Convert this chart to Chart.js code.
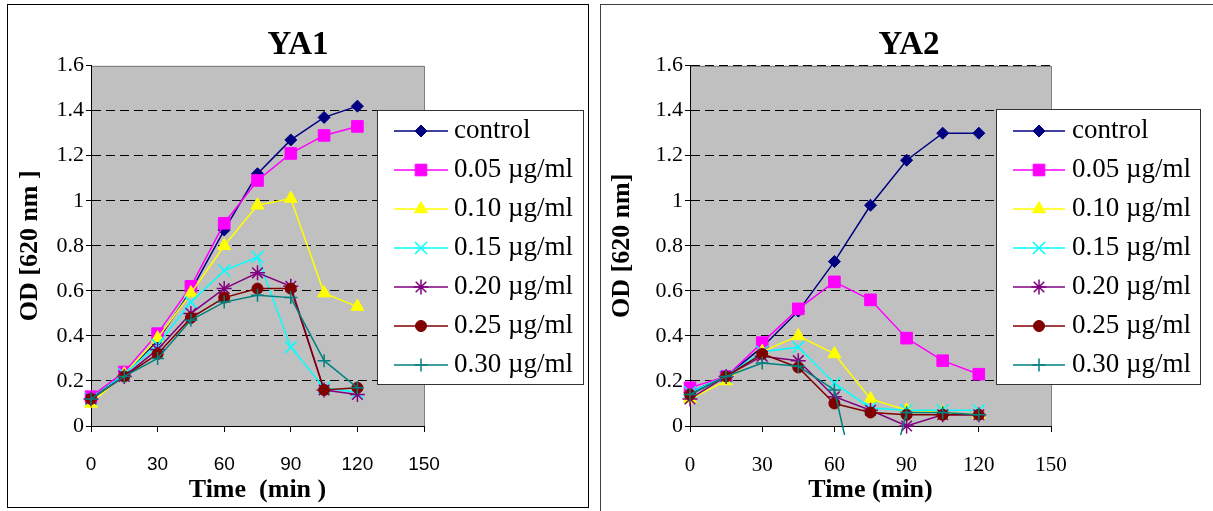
<!DOCTYPE html>
<html>
<head>
<meta charset="utf-8">
<script src="https://cdn.jsdelivr.net/npm/chart.js@4.4.0/dist/chart.umd.min.js"></script>
<style>
  html, body { margin: 0; padding: 0; background: #fff; overflow: hidden; width: 1213px; height: 511px; }
  .panel { position: absolute; box-sizing: border-box; background: #fff; }
  #p1 { left: 7px; top: 4px; width: 582px; height: 504px; border: 1px solid #000; }
  #p2 { left: 600px; top: 4px; width: 618px; height: 520px; border: 1px solid #404040; }
  .cv { position: absolute; left: 0; top: 0; }
  #w1 { width: 580px; height: 502px; }
  #w2 { width: 616px; height: 502px; }
</style>
</head>
<body>
<div class="panel" id="p1"><div class="cv" id="w1"><canvas id="c1"></canvas></div></div>
<div class="panel" id="p2"><div class="cv" id="w2"><canvas id="c2"></canvas></div></div>
<script>
// ---------- data ----------
const times = [0, 15, 30, 45, 60, 75, 90, 105, 120];
const seriesLabels = ['control', '0.05 \u00b5g/ml', '0.10 \u00b5g/ml', '0.15 \u00b5g/ml', '0.20 \u00b5g/ml', '0.25 \u00b5g/ml', '0.30 \u00b5g/ml'];
const xTickLabels = ['0', '30', '60', '90', '120', '150'];
const yTickLabels = ['0', '0.2', '0.4', '0.6', '0.8', '1', '1.2', '1.4', '1.6'];

const ya1Control = [0.12, 0.23, 0.38, 0.60, 0.87, 1.12, 1.27, 1.37, 1.42];
const ya1C005    = [0.13, 0.24, 0.41, 0.62, 0.90, 1.09, 1.21, 1.29, 1.33];
const ya1C010    = [0.10, 0.23, 0.39, 0.59, 0.80, 0.98, 1.01, 0.59, 0.53];
const ya1C015    = [0.12, 0.23, 0.36, 0.55, 0.69, 0.75, 0.35, 0.17, 0.15];
const ya1C020    = [0.12, 0.22, 0.34, 0.50, 0.61, 0.68, 0.62, 0.16, 0.14];
const ya1C025    = [0.12, 0.22, 0.32, 0.48, 0.57, 0.61, 0.61, 0.16, 0.17];
const ya1C030    = [0.12, 0.22, 0.30, 0.47, 0.55, 0.58, 0.57, 0.29, 0.17];

const ya2Control = [0.15, 0.22, 0.35, 0.51, 0.73, 0.98, 1.18, 1.30, 1.30];
const ya2C005    = [0.17, 0.22, 0.37, 0.52, 0.64, 0.56, 0.39, 0.29, 0.23];
const ya2C010    = [0.12, 0.20, 0.33, 0.40, 0.32, 0.12, 0.07, 0.06, 0.05];
const ya2C015    = [0.15, 0.22, 0.33, 0.35, 0.19, 0.08, 0.07, 0.07, 0.07];
const ya2C020    = [0.12, 0.22, 0.31, 0.29, 0.13, 0.07, 0.00, 0.05, 0.05];
const ya2C025    = [0.14, 0.22, 0.32, 0.26, 0.10, 0.06, 0.05, 0.05, 0.05];
const ya2C030    = [0.14, 0.22, 0.28, 0.265, 0.16, -0.55, 0.06, 0.06, 0.05];

// ---------- styles ----------
const SERIF = '"Liberation Serif", "Times New Roman", serif';
const SANS = '"Liberation Sans", Arial, sans-serif';
const seriesStyle = [
  { color: '#000080', pointStyle: 'rectRot',  radius: 6,   bw: 1 },
  { color: '#FF00FF', pointStyle: 'rect',     radius: 8.2, bw: 1 },
  { color: '#FFFF00', pointStyle: 'triangle', radius: 7.5, bw: 1 },
  { color: '#00FFFF', pointStyle: 'crossRot', radius: 8.5, bw: 1.5 },
  { color: '#800080', pointStyle: 'star',     radius: 7.5, bw: 1.5 },
  { color: '#800000', pointStyle: 'circle',   radius: 5.5, bw: 1 },
  { color: '#008080', pointStyle: 'cross',    radius: 6.5, bw: 1.5 }
];

function makeDatasets(arrs) {
  return arrs.map((vals, i) => {
    const s = seriesStyle[i];
    return {
      label: seriesLabels[i],
      data: times.map((t, k) => ({ x: t, y: vals[k] })),
      borderColor: s.color,
      backgroundColor: s.color,
      borderWidth: 1.5,
      pointStyle: s.pointStyle,
      pointRadius: s.radius,
      pointHoverRadius: s.radius,
      pointBackgroundColor: s.color,
      pointBorderColor: s.color,
      pointBorderWidth: s.bw,
      tension: 0,
      order: arrs.length - i,
      clip: { left: 12, right: 12, top: 12, bottom: 9 }
    };
  });
}

const plotBg = {
  id: 'plotBg',
  beforeDraw(chart) {
    const { ctx, chartArea: a } = chart;
    ctx.save();
    ctx.fillStyle = '#C0C0C0';
    ctx.fillRect(a.left, a.top, a.right - a.left, a.bottom - a.top);
    ctx.strokeStyle = '#808080';
    ctx.lineWidth = 1;
    ctx.strokeRect(Math.round(a.left) + 0.5, Math.round(a.top) + 0.5, Math.round(a.right - a.left), Math.round(a.bottom - a.top));
    ctx.restore();
  }
};

const boxLegend = {
  id: 'boxLegend',
  afterDraw(chart, args, o) {
    const ctx = chart.ctx;
    ctx.save();
    ctx.fillStyle = '#fff';
    ctx.fillRect(o.x, o.y, o.w, o.h);
    ctx.strokeStyle = '#333';
    ctx.lineWidth = 1;
    ctx.strokeRect(o.x + 0.5, o.y + 0.5, o.w, o.h);
    chart.data.datasets.forEach((ds, i) => {
      const ry = o.row0 + i * o.step;
      ctx.strokeStyle = ds.borderColor;
      ctx.lineWidth = ds.borderWidth;
      ctx.beginPath();
      ctx.moveTo(o.l1, ry);
      ctx.lineTo(o.l2, ry);
      ctx.stroke();
      ctx.fillStyle = ds.pointBackgroundColor;
      ctx.strokeStyle = ds.pointBorderColor;
      ctx.lineWidth = ds.pointBorderWidth;
      Chart.helpers.drawPoint(ctx, { pointStyle: ds.pointStyle, radius: ds.pointRadius, rotation: 0, borderWidth: ds.pointBorderWidth }, (o.l1 + o.l2) / 2, ry);
      ctx.fillStyle = '#000';
      ctx.font = o.font;
      ctx.textBaseline = 'middle';
      ctx.textAlign = 'left';
      ctx.fillText(ds.label, o.tx, ry);
    });
    ctx.restore();
  }
};

function makeChart(canvasId, cfg) {
  const gridDash = (c) => [9, 5];
  return new Chart(document.getElementById(canvasId), {
    type: 'line',
    data: { datasets: makeDatasets(cfg.arrs) },
    plugins: [plotBg, boxLegend],
    options: {
      responsive: true,
      maintainAspectRatio: false,
      animation: false,
      events: [],
      layout: { padding: 0 },
      plugins: {
        legend: { display: false },
        tooltip: { enabled: false },
        title: {
          display: true,
          text: cfg.title,
          color: '#000',
          font: { family: SERIF, size: 33, weight: 'bold' },
          padding: { top: 21, bottom: 0 }
        },
        boxLegend: cfg.legend
      },
      scales: {
        x: {
          type: 'linear',
          min: 0, max: 150,
          afterFit: (s) => { s.height = 81; },
          ticks: {
            stepSize: 30,
            autoSkip: false,
            maxRotation: 0,
            color: '#000',
            padding: 21,
            font: cfg.xTickFont,
            callback: (v, i) => xTickLabels[i]
          },
          grid: { drawOnChartArea: false, drawTicks: true, tickLength: 6, tickColor: '#000', tickWidth: 1, color: '#000' },
          border: { display: true, color: '#000', width: 1 },
          title: {
            display: true,
            text: cfg.xTitle,
            color: '#000',
            font: { family: SERIF, size: 26, weight: 'bold' },
            padding: { top: 0, bottom: 1 }
          }
        },
        y: {
          type: 'linear',
          min: 0, max: 1.6,
          afterFit: (s) => { s.width = cfg.yWidth; },
          ticks: {
            stepSize: 0.2,
            autoSkip: false,
            color: '#000',
            padding: 2,
            font: { family: SERIF, size: 22 },
            callback: (v, i) => yTickLabels[i]
          },
          grid: {
            drawOnChartArea: true,
            drawTicks: true,
            tickLength: 5,
            tickColor: '#000',
            tickWidth: 1,
            tickBorderDash: [],
            lineWidth: 1,
            color: (c) => (c.index === 0 || (c.index === 8 && !cfg.topGrid)) ? 'rgba(0,0,0,0)' : '#000'
          },
          border: { display: true, color: '#000', width: 1, dash: gridDash },
          title: {
            display: true,
            text: cfg.yTitle,
            color: '#000',
            font: { family: SERIF, size: 26, weight: 'bold' },
            padding: { top: cfg.yTitlePad, bottom: 0 }
          }
        },
        yr: {
          type: 'linear',
          position: 'right',
          display: true,
          min: 0, max: 1,
          afterFit: (s) => { s.width = cfg.padRight; },
          ticks: { display: false },
          grid: { display: false, drawOnChartArea: false, drawTicks: false },
          border: { display: false },
          title: { display: false }
        }
      }
    }
  });
}

makeChart('c1', {
  arrs: [ya1Control, ya1C005, ya1C010, ya1C015, ya1C020, ya1C025, ya1C030],
  title: 'YA1',
  xTitle: 'Time  (min )',
  yTitle: 'OD [620 nm ]',
  yWidth: 83,
  padRight: 164,
  yTitlePad: 7,
  topGrid: false,
  xTickFont: { family: SANS, size: 19 },
  legend: { x: 369, y: 105, w: 206, h: 274, row0: 126, step: 39, l1: 386, l2: 440, tx: 446, font: '27px ' + SERIF }
});

makeChart('c2', {
  arrs: [ya2Control, ya2C005, ya2C010, ya2C015, ya2C020, ya2C025, ya2C030],
  title: 'YA2',
  xTitle: 'Time (min)',
  yTitle: 'OD [620 nm]',
  yWidth: 89,
  padRight: 166,
  yTitlePad: 6,
  topGrid: true,
  xTickFont: { family: SERIF, size: 21 },
  legend: { x: 395, y: 104, w: 204, h: 275, row0: 126, step: 39, l1: 412, l2: 464, tx: 471, font: '27px ' + SERIF }
});
</script>
</body>
</html>
